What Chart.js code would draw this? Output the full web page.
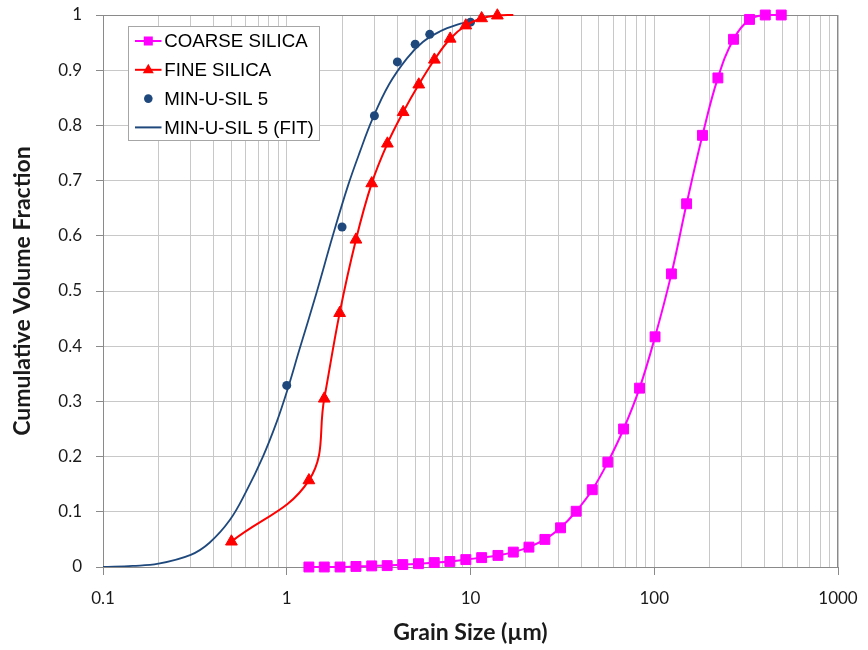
<!DOCTYPE html>
<html><head><meta charset="utf-8">
<script src="https://cdn.jsdelivr.net/npm/chart.js@4/dist/chart.umd.min.js"></script>
<style>html,body{margin:0;padding:0;background:#fff}#wrap{width:868px;height:650px}</style>
</head><body><div id="wrap"><canvas id="c" width="868" height="650"></canvas></div>
<script>
// ---- data ----
const coarseSize = [1.32,1.60,1.95,2.38,2.90,3.52,4.28,5.21,6.35,7.72,9.43,11.5,14.1,17.1,20.8,25.4,30.9,37.6,46.0,55.9,68.1,83.2,101,124,150,183,222,270,330,402,491];
const coarseFrac = [0,0,0,0.001,0.002,0.0025,0.0044,0.006,0.008,0.010,0.0134,0.017,0.021,0.027,0.036,0.050,0.071,0.101,0.140,0.190,0.250,0.324,0.417,0.531,0.658,0.782,0.886,0.956,0.992,1.0,1.0];
const fineSize = [0.5,1.32,1.60,1.94,2.38,2.90,3.53,4.30,5.23,6.36,7.75,9.43,11.5,14.0,17.1];
const fineFrac = [0.046,0.157,0.305,0.460,0.593,0.695,0.767,0.824,0.874,0.919,0.957,0.981,0.994,0.999,1.0];
const minuSize = [1,2,3,4,5,6,10];
const minuFrac = [0.329,0.616,0.8175,0.915,0.947,0.965,0.987];
const fitSize = [0.1,0.145,0.2,0.3,0.38,0.49,0.6,0.74,0.88,1.0,1.17,1.45,1.78,2.15,2.5,2.94,3.6,4.5,5.5,6.8,8.4,10];
const fitFrac = [0,0.002,0.006,0.022,0.044,0.085,0.136,0.199,0.262,0.317,0.393,0.496,0.600,0.690,0.752,0.813,0.874,0.921,0.951,0.970,0.982,0.988];
const seriesNames = ['COARSE SILICA','FINE SILICA','MIN-U-SIL 5','MIN-U-SIL 5 (FIT)'];
const xTickLabels = ['0.1','1','10','100','1000'];
const yTickLabels = ['0','0.1','0.2','0.3','0.4','0.5','0.6','0.7','0.8','0.9','1'];
const xTitle = 'Grain Size (µm)';
const yTitle = 'Cumulative Volume Fraction';

const pts = (xs, ys) => xs.map((x, i) => ({x: x, y: ys[i]}));
const xMajor = xTickLabels.map(Number);
const xGrid = [];
for (let d = 0; d < xMajor.length - 1; d++) {
  for (let m = 1; m <= 9; m++) xGrid.push(Number((m * xMajor[d]).toPrecision(6)));
}
xGrid.push(xMajor[xMajor.length - 1]);
const isMajor = v => xMajor.some(t => Math.abs(v - t) / t < 1e-6);

const BLUE = '#1F497D';
const GRID = '#c8c8c8';
const AXIS = '#8a8a8a';

function drawMarker(ctx, style, x, y, color) {
  ctx.fillStyle = color;
  ctx.beginPath();
  if (style === 'rect') { ctx.rect(x - 4.5, y - 4.5, 9, 9); }
  else if (style === 'triangle') { ctx.moveTo(x, y - 6); ctx.lineTo(x + 5.5, y + 3.5); ctx.lineTo(x - 5.5, y + 3.5); ctx.closePath(); }
  else if (style === 'circle') { ctx.arc(x, y, 4.3, 0, Math.PI * 2); }
  ctx.fill();
}

const framePlugin = {
  id: 'frame',
  beforeDatasetsDraw(chart) {
    const a = chart.chartArea, ctx = chart.ctx;
    ctx.save();
    ctx.strokeStyle = AXIS; ctx.lineWidth = 1;
    ctx.strokeRect(Math.round(a.left) + 0.5, Math.round(a.top) + 0.5, Math.round(a.right - a.left) - 1, Math.round(a.bottom - a.top));
    ctx.restore();
  }
};

const legendPlugin = {
  id: 'boxLegend',
  afterDraw(chart) {
    const ctx = chart.ctx;
    ctx.save();
    const x0 = 128.5, y0 = 26.5, w = 191, h = 114;
    ctx.fillStyle = '#fff'; ctx.fillRect(x0, y0, w, h);
    ctx.strokeStyle = '#a6a6a6'; ctx.lineWidth = 1; ctx.strokeRect(x0, y0, w, h);
    ctx.font = '18.7px "Liberation Sans", Arial, sans-serif';
    ctx.textBaseline = 'middle';
    chart.data.datasets.forEach((ds, i) => {
      const y = 41 + i * 28.8;
      if (ds.showLine !== false) {
        ctx.strokeStyle = ds.borderColor; ctx.lineWidth = 2;
        ctx.beginPath(); ctx.moveTo(135, y); ctx.lineTo(161.5, y); ctx.stroke();
      }
      const r = Array.isArray(ds.pointRadius) ? ds.pointRadius[0] : ds.pointRadius;
      if (r > 0) drawMarker(ctx, ds.pointStyle, 148.3, y, ds.pointBackgroundColor);
      ctx.fillStyle = '#000';
      ctx.fillText(ds.label, 164.3, y + 1);
    });
    ctx.restore();
  }
};

new Chart(document.getElementById('c'), {
  type: 'line',
  data: {
    datasets: [
      { label: seriesNames[0], data: pts(coarseSize, coarseFrac), borderColor: '#FF00FF', backgroundColor: '#FF00FF',
        pointBackgroundColor: '#FF00FF', pointBorderColor: '#FF00FF', borderWidth: 2, pointStyle: 'rect',
        pointRadius: 7, pointBorderWidth: 1, tension: 0.4, clip: false },
      { label: seriesNames[1], data: pts(fineSize, fineFrac), borderColor: '#FF0000', backgroundColor: '#FF0000',
        pointBackgroundColor: '#FF0000', pointBorderColor: '#FF0000', borderWidth: 2, pointStyle: 'triangle',
        pointRadius: fineSize.map((v, i) => i === fineSize.length - 1 ? 0 : 6.8), pointBorderWidth: 1, tension: 0.4, clip: false },
      { label: seriesNames[2], data: pts(minuSize, minuFrac), borderColor: BLUE, backgroundColor: BLUE,
        pointBackgroundColor: BLUE, pointBorderColor: BLUE, showLine: false, pointStyle: 'circle',
        pointRadius: 4.5, pointBorderWidth: 0, clip: false },
      { label: seriesNames[3], data: pts(fitSize, fitFrac), borderColor: BLUE, backgroundColor: BLUE,
        pointBackgroundColor: BLUE, borderWidth: 1.8, pointRadius: 0, pointStyle: 'line',
        tension: 0.4 }
    ]
  },
  options: {
    responsive: false,
    animation: false,
    layout: { padding: { top: 15, right: 30, left: 0, bottom: 0 } },
    plugins: { legend: { display: false }, tooltip: { enabled: false } },
    scales: {
      x: {
        type: 'logarithmic', min: 0.1, max: 1000,
        afterBuildTicks: s => { s.ticks = xGrid.map(v => ({ value: v, major: isMajor(v) })); },
        afterFit: s => { s.height = 83; s.paddingLeft = 0; s.paddingRight = 0; },
        ticks: {
          autoSkip: false, maxRotation: 0, minRotation: 0, padding: 13,
          font: { family: 'Lato', size: 17 }, color: '#1a1a1a',
          callback: v => { const k = xMajor.findIndex(t => Math.abs(v - t) / t < 1e-6); return k >= 0 ? xTickLabels[k] : ''; }
        },
        grid: { color: GRID, lineWidth: 1, tickLength: 8,
          tickColor: c => (c.tick && isMajor(c.tick.value)) ? AXIS : 'rgba(0,0,0,0)' },
        border: { color: AXIS, width: 1 },
        title: { display: true, text: xTitle, color: '#1a1a1a', font: { family: 'Lato', size: 23, weight: 'bold' }, padding: { top: 0, bottom: 4 } }
      },
      y: {
        type: 'linear', min: 0, max: 1,
        afterFit: s => { s.width = 103; s.paddingTop = 0; s.paddingBottom = 0; },
        ticks: { stepSize: 0.1, padding: 14, font: { family: 'Lato', size: 17 }, color: '#1a1a1a',
          callback: (v, i) => yTickLabels[i] },
        grid: { color: GRID, lineWidth: 1, tickLength: 7, tickColor: AXIS },
        border: { color: AXIS, width: 1 },
        title: { display: true, text: yTitle, color: '#1a1a1a', font: { family: 'Lato', size: 23, weight: 'bold' }, padding: { top: 9, bottom: 0 } }
      }
    }
  },
  plugins: [framePlugin, legendPlugin]
});
</script>
</body></html>
